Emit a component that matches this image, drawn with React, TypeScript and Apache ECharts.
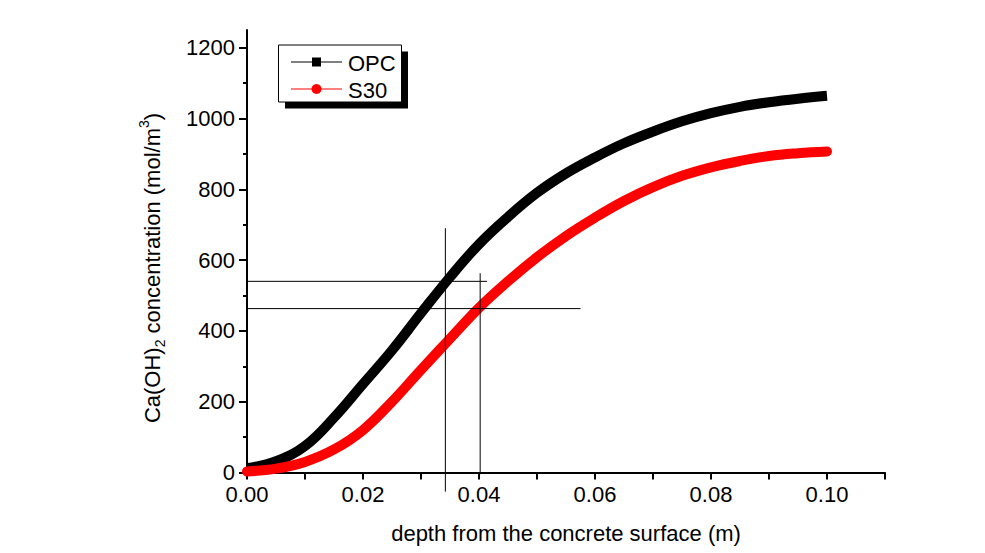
import React, { useEffect, useRef } from "react";
import * as echarts from "echarts";

const depth = [0, 0.005, 0.01, 0.015, 0.02, 0.025, 0.03, 0.035, 0.04, 0.045, 0.05, 0.055, 0.06, 0.065, 0.07, 0.075, 0.08, 0.085, 0.09, 0.095, 0.1];
const opc = [12, 32, 75, 155, 250, 345, 450, 552, 645, 722, 790, 845, 890, 930, 963, 992, 1015, 1033, 1046, 1056, 1064];
const s30 = [3, 11, 30, 65, 120, 200, 290, 378, 465, 540, 608, 668, 720, 767, 806, 838, 862, 880, 894, 902, 907];

const xMajor = [0, 0.02, 0.04, 0.06, 0.08, 0.1];
const xAllTicks = [0, 0.01, 0.02, 0.03, 0.04, 0.05, 0.06, 0.07, 0.08, 0.09, 0.1, 0.11];
const yMajor = [0, 200, 400, 600, 800, 1000, 1200];
const yMinor = [100, 300, 500, 700, 900, 1100];

// reference guide lines
const guideV1 = [[0.0342, 690], [0.0342, -54]];
const guideV2 = [[0.0402, 563], [0.0402, -5]];
const guideH1 = [[-0.0022, 540], [0.0414, 540]];
const guideH2 = [[-0.0024, 463], [0.0575, 463]];

const FONT = "'Liberation Sans', Arial, sans-serif";

export default function App() {
  const ref = useRef<HTMLDivElement>(null);
  useEffect(() => {
    if (!ref.current) return;
    const chart = echarts.init(ref.current, null, { renderer: "svg" });
    const guide = (data: number[][]) => ({
      type: "line",
      data,
      showSymbol: false,
      symbol: "none",
      clip: false,
      silent: true,
      lineStyle: { color: "#000", width: 1 },
      z: 5,
    });
    const gridRect = { left: 247, right: 100, top: 30, bottom: 80.5, containLabel: false };
    chart.setOption({
      animation: false,
      backgroundColor: "#fff",
      textStyle: { fontFamily: FONT },
      grid: [gridRect, gridRect],
      xAxis: [
        {
          type: "value",
          gridIndex: 0,
          min: 0,
          max: 0.11,
          position: "bottom",
          name: "depth from the concrete surface (m)",
          nameLocation: "middle",
          nameGap: 50,
          nameTextStyle: { fontSize: 22, color: "#000", fontFamily: FONT },
          splitLine: { show: false },
          axisLine: { lineStyle: { color: "#000", width: 2 } },
          axisTick: { customValues: xAllTicks, length: 7, lineStyle: { color: "#000", width: 2 } },
          axisLabel: {
            customValues: xMajor,
            margin: 11,
            fontSize: 22,
            color: "#000",
            fontFamily: FONT,
            formatter: (v: number) => v.toFixed(2),
          },
        },
        {
          type: "value",
          gridIndex: 1,
          min: 0,
          max: 0.11,
          position: "bottom",
          show: false,
        },
      ],
      yAxis: [
        {
          type: "value",
          gridIndex: 0,
          min: 0,
          max: 1250,
          position: "left",
          splitLine: { show: false },
          axisLine: { show: true, lineStyle: { color: "#000", width: 2 } },
          axisTick: { show: true, customValues: yMajor, length: 8, lineStyle: { color: "#000", width: 2 } },
          axisLabel: {
            customValues: yMajor,
            margin: 12,
            fontSize: 22,
            color: "#000",
            fontFamily: FONT,
            formatter: (v: number) => String(v),
          },
        },
        {
          type: "value",
          gridIndex: 1,
          min: 0,
          max: 1250,
          position: "left",
          splitLine: { show: false },
          axisLine: { show: false, onZero: false },
          axisTick: { show: true, customValues: yMinor, length: 4, lineStyle: { color: "#000", width: 2 } },
          axisLabel: { show: false },
        },
      ],
      series: [
        {
          name: "OPC",
          type: "line",
          data: depth.map((d, i) => [d, opc[i]]),
          smooth: 0.4,
          showSymbol: false,
          symbol: "none",
          lineStyle: { color: "#000", width: 10, cap: "butt" },
          z: 3,
        },
        {
          name: "S30",
          type: "line",
          data: depth.map((d, i) => [d, s30[i]]),
          smooth: 0.4,
          showSymbol: false,
          symbol: "none",
          lineStyle: { color: "#ff0000", width: 10, cap: "round" },
          z: 4,
        },
        guide(guideV1),
        guide(guideV2),
        guide(guideH1),
        guide(guideH2),
      ],
      graphic: [
        {
          type: "text",
          x: 152,
          y: 268,
          rotation: Math.PI / 2,
          style: {
            text: "{n|Ca(OH)}{sub|2}{n| concentration (mol/m}{sup|3}{n|)}",
            align: "center",
            verticalAlign: "middle",
            fill: "#000",
            rich: {
              n: { fontSize: 22, fontFamily: FONT, fill: "#000", lineHeight: 30 },
              sub: { fontSize: 14, fontFamily: FONT, fill: "#000", verticalAlign: "bottom", lineHeight: 14 },
              sup: { fontSize: 14, fontFamily: FONT, fill: "#000", verticalAlign: "top", lineHeight: 14 },
            },
          },
        },
        { type: "rect", shape: { x: 285, y: 51.5, width: 123, height: 57 }, style: { fill: "#000" }, z: 100 },
        { type: "rect", shape: { x: 278.5, y: 45, width: 123, height: 57 }, style: { fill: "#fff", stroke: "#000", lineWidth: 1 }, z: 101 },
        { type: "line", shape: { x1: 291, y1: 62, x2: 342, y2: 62 }, style: { stroke: "#000", lineWidth: 1 }, z: 102 },
        { type: "rect", shape: { x: 312, y: 57.5, width: 9, height: 9 }, style: { fill: "#000" }, z: 103 },
        { type: "text", x: 348, y: 63, style: { text: "OPC", fontSize: 22, fontFamily: FONT, fill: "#000", verticalAlign: "middle" }, z: 103 },
        { type: "line", shape: { x1: 291, y1: 89, x2: 342, y2: 89 }, style: { stroke: "#ff0000", lineWidth: 1 }, z: 102 },
        { type: "circle", shape: { cx: 316.5, cy: 89, r: 5 }, style: { fill: "#ff0000" }, z: 103 },
        { type: "text", x: 348, y: 90, style: { text: "S30", fontSize: 22, fontFamily: FONT, fill: "#000", verticalAlign: "middle" }, z: 103 },
      ],
    });
    return () => chart.dispose();
  }, []);
  return <div ref={ref} style={{ width: 985, height: 553, position: "absolute", left: 0, top: 0 }} />;
}
